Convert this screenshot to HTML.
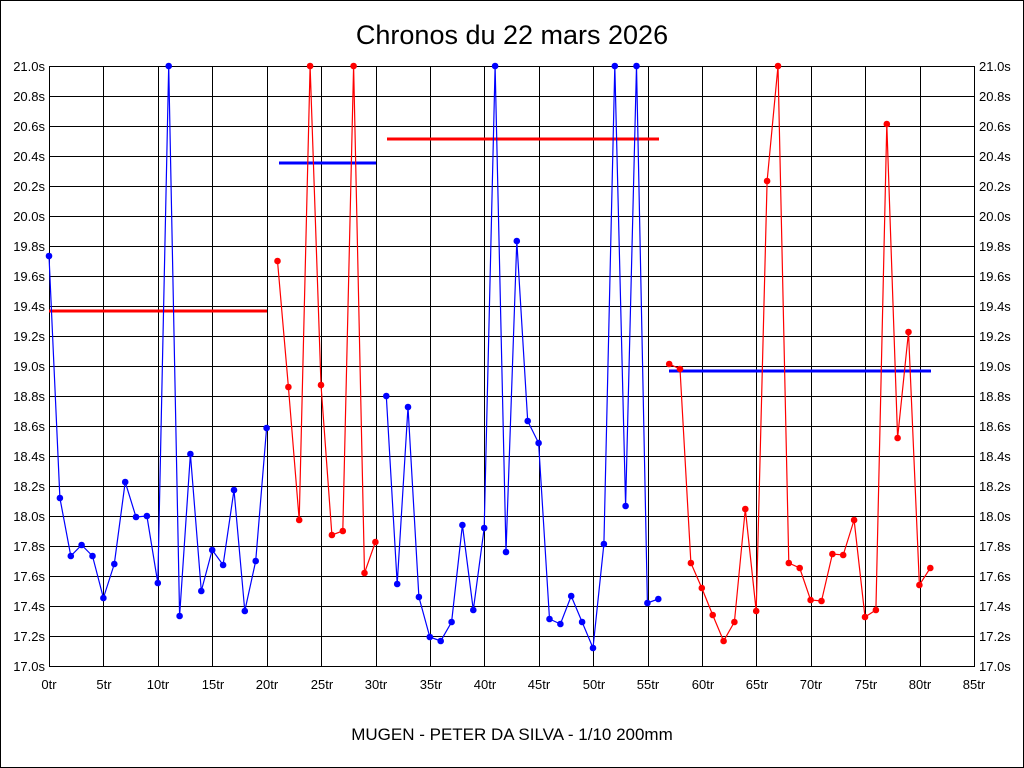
<!DOCTYPE html><html><head><style>html,body{margin:0;padding:0;background:#fff}svg{display:block}</style></head><body>
<svg width="1024" height="768" xmlns="http://www.w3.org/2000/svg" font-family="Liberation Sans, sans-serif">
<defs>
<marker id="mb" markerUnits="userSpaceOnUse" markerWidth="8" markerHeight="8" refX="4" refY="4"><circle cx="4" cy="4" r="3.3" fill="#00f"/></marker>
<marker id="mr" markerUnits="userSpaceOnUse" markerWidth="8" markerHeight="8" refX="4" refY="4"><circle cx="4" cy="4" r="3.3" fill="#f00"/></marker>
</defs>
<rect x="0.5" y="0.5" width="1023" height="767" fill="#fff" stroke="#000"/>
<text x="512" y="44" font-size="27" text-anchor="middle">Chronos du 22 mars 2026</text>
<text x="512" y="740" font-size="17" text-anchor="middle">MUGEN - PETER DA SILVA - 1/10 200mm</text>
<g stroke="#000" stroke-width="1">
<path d="M49 96.5H974M49 126.5H974M49 156.5H974M49 186.5H974M49 216.5H974M49 246.5H974M49 276.5H974M49 306.5H974M49 336.5H974M49 366.5H974M49 396.5H974M49 426.5H974M49 456.5H974M49 486.5H974M49 516.5H974M49 546.5H974M49 576.5H974M49 606.5H974M49 636.5H974"/>
<path d="M103.5 66V666M158.5 66V666M212.5 66V666M267.5 66V666M321.5 66V666M376.5 66V666M430.5 66V666M484.5 66V666M539.5 66V666M593.5 66V666M648.5 66V666M702.5 66V666M756.5 66V666M811.5 66V666M865.5 66V666M920.5 66V666"/>
<rect x="49.5" y="66.5" width="925" height="600" fill="none"/>
</g>
<g font-size="13" text-anchor="end">
<text x="45" y="71">21.0s</text><text x="45" y="101">20.8s</text><text x="45" y="131">20.6s</text><text x="45" y="161">20.4s</text><text x="45" y="191">20.2s</text><text x="45" y="221">20.0s</text><text x="45" y="251">19.8s</text><text x="45" y="281">19.6s</text><text x="45" y="311">19.4s</text><text x="45" y="341">19.2s</text><text x="45" y="371">19.0s</text><text x="45" y="401">18.8s</text><text x="45" y="431">18.6s</text><text x="45" y="461">18.4s</text><text x="45" y="491">18.2s</text><text x="45" y="521">18.0s</text><text x="45" y="551">17.8s</text><text x="45" y="581">17.6s</text><text x="45" y="611">17.4s</text><text x="45" y="641">17.2s</text><text x="45" y="671">17.0s</text>
</g>
<g font-size="13" text-anchor="start">
<text x="979" y="71">21.0s</text><text x="979" y="101">20.8s</text><text x="979" y="131">20.6s</text><text x="979" y="161">20.4s</text><text x="979" y="191">20.2s</text><text x="979" y="221">20.0s</text><text x="979" y="251">19.8s</text><text x="979" y="281">19.6s</text><text x="979" y="311">19.4s</text><text x="979" y="341">19.2s</text><text x="979" y="371">19.0s</text><text x="979" y="401">18.8s</text><text x="979" y="431">18.6s</text><text x="979" y="461">18.4s</text><text x="979" y="491">18.2s</text><text x="979" y="521">18.0s</text><text x="979" y="551">17.8s</text><text x="979" y="581">17.6s</text><text x="979" y="611">17.4s</text><text x="979" y="641">17.2s</text><text x="979" y="671">17.0s</text>
</g>
<g font-size="13" text-anchor="middle">
<text x="49" y="689">0tr</text><text x="104" y="689">5tr</text><text x="158" y="689">10tr</text><text x="213" y="689">15tr</text><text x="267" y="689">20tr</text><text x="322" y="689">25tr</text><text x="376" y="689">30tr</text><text x="431" y="689">35tr</text><text x="485" y="689">40tr</text><text x="539" y="689">45tr</text><text x="594" y="689">50tr</text><text x="648" y="689">55tr</text><text x="703" y="689">60tr</text><text x="757" y="689">65tr</text><text x="811" y="689">70tr</text><text x="866" y="689">75tr</text><text x="920" y="689">80tr</text><text x="974" y="689">85tr</text>
</g>
<g stroke-width="3">
<line x1="49" y1="311" x2="267" y2="311" stroke="#f00"/>
<line x1="279" y1="163" x2="376" y2="163" stroke="#00f"/>
<line x1="387" y1="139" x2="659" y2="139" stroke="#f00"/>
<line x1="669" y1="371" x2="931" y2="371" stroke="#00f"/>
</g>
<g fill="none" stroke-width="1.2">
<polyline stroke="#00f" marker-start="url(#mb)" marker-mid="url(#mb)" marker-end="url(#mb)" points="49,256 59.9,498 70.8,556 81.6,545 92.5,556 103.4,598 114.3,564 125.2,482 136,517 146.9,516 157.8,583 168.7,66 179.6,616 190.4,454 201.3,591 212.2,550 223.1,565 234,490 244.8,611 255.7,561 266.6,428"/>
<polyline stroke="#f00" marker-start="url(#mr)" marker-mid="url(#mr)" marker-end="url(#mr)" points="277.5,261 288.4,387 299.2,520 310.1,66 321,385 331.9,535 342.8,531 353.6,66 364.5,573 375.4,542"/>
<polyline stroke="#00f" marker-start="url(#mb)" marker-mid="url(#mb)" marker-end="url(#mb)" points="386.3,396 397.2,584 408,407 418.9,597 429.8,637 440.7,641 451.6,622 462.4,525 473.3,610 484.2,528 495.1,66 506,552 516.8,241 527.7,421 538.6,443 549.5,619 560.4,624 571.2,596 582.1,622 593,648 603.9,544 614.8,66 625.6,506 636.5,66 647.4,603 658.3,599"/>
<polyline stroke="#f00" marker-start="url(#mr)" marker-mid="url(#mr)" marker-end="url(#mr)" points="669.2,364 680,369 690.9,563 701.8,588 712.7,615 723.6,641 734.4,622 745.3,509 756.2,611 767.1,181 778,66 788.8,563 799.7,568 810.6,600 821.5,601 832.4,554 843.2,555 854.1,520 865,617 875.9,610 886.8,124 897.6,438 908.5,332 919.4,585 930.3,568"/>
</g>
</svg>
</body></html>
